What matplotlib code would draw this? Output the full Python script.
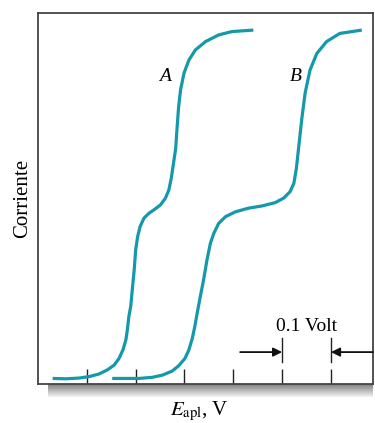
import matplotlib.pyplot as plt
import numpy as np

# Polarographic waves A and B (x in V, y in normalized current)
a_volt = [0.030, 0.057, 0.084, 0.105, 0.125, 0.142, 0.156, 0.166, 0.174, 0.180,
          0.183, 0.186, 0.190, 0.193, 0.197, 0.200, 0.204, 0.209, 0.217, 0.227,
          0.237, 0.251, 0.261, 0.268, 0.273, 0.282, 0.285, 0.288, 0.292, 0.299,
          0.309, 0.322, 0.343, 0.370, 0.397, 0.441]
a_curr = [0.015, 0.014, 0.016, 0.020, 0.027, 0.038, 0.051, 0.069, 0.092, 0.119,
          0.146, 0.181, 0.210, 0.253, 0.307, 0.361, 0.397, 0.424, 0.447, 0.460,
          0.469, 0.483, 0.501, 0.523, 0.555, 0.635, 0.694, 0.747, 0.793, 0.838,
          0.873, 0.900, 0.923, 0.941, 0.950, 0.954]
b_volt = [0.152, 0.180, 0.207, 0.234, 0.255, 0.275, 0.288, 0.301, 0.309, 0.316,
          0.321, 0.326, 0.331, 0.335, 0.339, 0.346, 0.353, 0.360, 0.370, 0.384,
          0.404, 0.431, 0.459, 0.486, 0.503, 0.516, 0.524, 0.529, 0.534, 0.540,
          0.547, 0.557, 0.571, 0.591, 0.618, 0.663]
b_curr = [0.015, 0.015, 0.015, 0.018, 0.024, 0.035, 0.049, 0.069, 0.092, 0.123,
          0.154, 0.191, 0.226, 0.253, 0.280, 0.334, 0.379, 0.406, 0.433, 0.451,
          0.464, 0.474, 0.480, 0.489, 0.501, 0.518, 0.541, 0.580, 0.640, 0.712,
          0.784, 0.846, 0.891, 0.923, 0.945, 0.954]
tick_volts = [0.1, 0.2, 0.3, 0.4, 0.5, 0.6]

teal = '#1499ab'
serif = ['Liberation Serif', 'DejaVu Serif']
plt.rcParams['font.family'] = serif
plt.rcParams['mathtext.fontset'] = 'stix'

fig = plt.figure(figsize=(3.75, 4.23), dpi=100)
ax = fig.add_axes([0.1013, 0.0922, 0.8933, 0.877])

ax.plot(a_volt, a_curr, color=teal, lw=2.3, solid_capstyle='butt', solid_joinstyle='round')
ax.plot(b_volt, b_curr, color=teal, lw=2.3, solid_capstyle='butt', solid_joinstyle='round')

ax.set_xlim(0, 0.686)
ax.set_ylim(0, 1)
ax.set_xticks(tick_volts)
ax.set_xticklabels([])
ax.set_yticks([])
ax.tick_params(axis='x', direction='in', length=11, width=1, color='#222222')
for s in ax.spines.values():
    s.set_color('#444444')
    s.set_linewidth(1.3)

ax.text(0.272, 0.83, 'A', style='italic', fontsize=14, ha='right', va='center')
ax.text(0.541, 0.83, 'B', style='italic', fontsize=14, ha='right', va='center')

# 0.1 Volt scale marker
ax.plot([0.5, 0.5], [0.059, 0.124], color='#222222', lw=1)
ax.plot([0.6, 0.6], [0.059, 0.124], color='#222222', lw=1)
ax.annotate('', xy=(0.5, 0.086), xytext=(0.414, 0.086),
            arrowprops=dict(arrowstyle='-|>', color='#111111', lw=1.3, mutation_scale=13,
                            shrinkA=0, shrinkB=0))
ax.annotate('', xy=(0.6, 0.086), xytext=(0.686, 0.086),
            arrowprops=dict(arrowstyle='-|>', color='#111111', lw=1.3, mutation_scale=13,
                            shrinkA=0, shrinkB=0))
ax.text(0.551, 0.133, '0.1 Volt', fontsize=14, ha='center', va='bottom')

# shadow under the x axis
sh = fig.add_axes([48 / 375, (423 - 397) / 423, 325 / 375, 13 / 423])
grad = np.linspace(0.5, 0.95, 50).reshape(-1, 1)
sh.imshow(grad, aspect='auto', cmap='gray', vmin=0, vmax=1, extent=[0, 1, 0, 1])
sh.set_axis_off()
sh.set_zorder(-1)

fig.text(0.059, 0.53, 'Corriente', rotation=90, fontsize=15, ha='center', va='center')
fig.text(0.533, 0.028, r'$E_{\mathrm{apl}}$, V', fontsize=15, ha='center', va='center')

fig.savefig('out.png', dpi=100)
